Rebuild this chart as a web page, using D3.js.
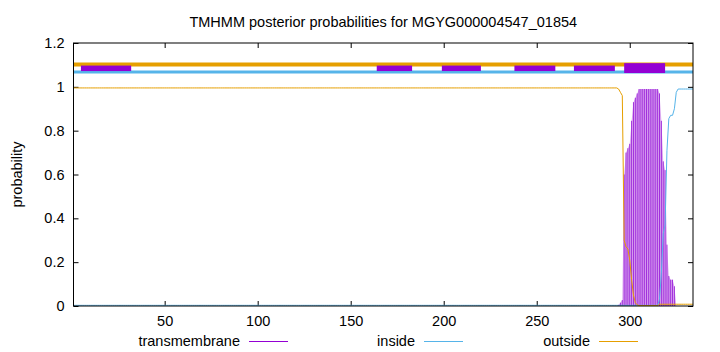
<!DOCTYPE html>
<meta charset="utf-8">
<style>

body {
  margin: 0;
  background: #fff;
}

text {
  font-family: "Liberation Sans", Arial, sans-serif;
  font-size: 14.5px;
  fill: #000;
}

.frame {
  fill: none;
  stroke: #000;
  stroke-width: 1px;
}

.tick line {
  stroke: #000;
}

</style>
<body>
<script src="https://d3js.org/d3.v7.min.js"></script>
<script>

var width = 720,
    height = 352;

var margin = {left: 73.5, right: 27, top: 43, bottom: 46};

// sequence and residue numbers where the explicit values begin
var seqLength = 334;
var firstDetailed = 293;

// posterior values for residues 293..334 (before that: flat)
var transmembrane = [0, 0.005, 0.015, 0.027, 0.60, 0.70, 0.72, 0.74, 0.845, 0.93,
  0.95, 0.97, 0.99, 0.99, 0.99, 0.99, 0.99, 0.99, 0.99, 0.99,
  0.99, 0.99, 0.99, 0.97, 0.845, 0.66, 0.62, 0.28, 0.137, 0.12,
  0.12, 0.09, 0, 0, 0, 0, 0, 0, 0, 0, 0, 0];
var inside = [0.003, 0.003, 0.003, 0.003, 0.003, 0.003, 0.003, 0.003, 0.003, 0.003,
  0.003, 0.003, 0.003, 0.003, 0.003, 0.003, 0.003, 0.003, 0.003, 0.003,
  0.003, 0.003, 0.003, 0.03, 0.15, 0.33, 0.37, 0.71, 0.855, 0.87,
  0.87, 0.90, 0.975, 0.99, 0.99, 0.99, 0.99, 0.99, 0.99, 0.99, 0.99, 0.99];
var outside = [0.995, 0.99, 0.975, 0.96, 0.30, 0.27, 0.26, 0.21, 0.12, 0.05,
  0.015, 0.005, 0.002, 0.002, 0.002, 0.002, 0.002, 0.002, 0.002, 0.002,
  0.002, 0.002, 0.002, 0.008, 0.008, 0.008, 0.008, 0.008, 0.008, 0.008,
  0.008, 0.008, 0.008, 0.008, 0.008, 0.008, 0.008, 0.008, 0.008, 0.008, 0.008, 0.008];
var flatValues = {transmembrane: 0, inside: 0.003, outside: 0.995};

// predicted topology shown above the plot
var tmSegments = [[5, 32], [164, 183], [199, 220], [238, 260], [270, 292], [297, 319]];
var insideBand = [1, 334];
var outsideBand = [1, 334];

var xTicks = [50, 100, 150, 200, 250, 300];
var yTicks = [0, 0.2, 0.4, 0.6, 0.8, 1, 1.2];

var colors = {transmembrane: "#9400d3", inside: "#56b4e9", outside: "#e69f00"};

function series(values, key) {
  var out = [];
  for (var i = 1; i <= seqLength; i++) {
    out.push({pos: i, v: i < firstDetailed ? flatValues[key] : values[i - firstDetailed]});
  }
  return out;
}

var tmData = series(transmembrane, "transmembrane"),
    inData = series(inside, "inside"),
    outData = series(outside, "outside");

var x = d3.scaleLinear()
    .domain([1, seqLength])
    .range([margin.left, width - margin.right]);

var y = d3.scaleLinear()
    .domain([0, 1.2])
    .range([height - margin.bottom, margin.top]);

var svg = d3.select("body").append("svg")
    .attr("width", width)
    .attr("height", height)
    .style("display", "block");

// axes with mirrored ticks
svg.append("g")
    .attr("transform", "translate(0," + y(0) + ")")
    .call(d3.axisBottom(x).tickValues(xTicks).tickSize(-5).tickPadding(10).tickFormat(d3.format("d")))
    .call(function(g) { g.select(".domain").remove(); g.attr("font-family", null).attr("font-size", null); });

svg.append("g")
    .attr("transform", "translate(0," + y(1.2) + ")")
    .call(d3.axisTop(x).tickValues(xTicks).tickSize(-5).tickFormat(""))
    .call(function(g) { g.select(".domain").remove(); });

svg.append("g")
    .attr("transform", "translate(" + x(1) + ",0)")
    .call(d3.axisLeft(y).tickValues(yTicks).tickSize(-5).tickPadding(9).tickFormat(d3.format("")))
    .call(function(g) { g.select(".domain").remove(); g.attr("font-family", null).attr("font-size", null); });

svg.append("g")
    .attr("transform", "translate(" + x(seqLength) + ",0)")
    .call(d3.axisRight(y).tickValues(yTicks).tickSize(-5).tickFormat(""))
    .call(function(g) { g.select(".domain").remove(); });

// light fill under transmembrane impulses
svg.append("path")
    .datum(tmData.filter(function(d) { return d.pos >= firstDetailed; }))
    .attr("fill", "#dcaaf0")
    .attr("d", d3.area()
        .x(function(d) { return x(d.pos); })
        .y0(y(0))
        .y1(function(d) { return y(d.v); }));

svg.selectAll(".impulse")
    .data(tmData.filter(function(d) { return d.v > 0; }))
  .enter().append("line")
    .attr("class", "impulse")
    .attr("x1", function(d) { return x(d.pos); })
    .attr("x2", function(d) { return x(d.pos); })
    .attr("y1", y(0))
    .attr("y2", function(d) { return y(d.v); })
    .attr("stroke", "#a030dc")
    .attr("stroke-width", 1);

var line = d3.line()
    .x(function(d) { return x(d.pos); })
    .y(function(d) { return y(d.v); });

svg.append("path")
    .datum(inData)
    .attr("fill", "none")
    .attr("stroke", colors.inside)
    .attr("stroke-width", 1)
    .attr("d", line);

svg.append("path")
    .datum(outData)
    .attr("fill", "none")
    .attr("stroke", colors.outside)
    .attr("stroke-width", 1)
    .attr("d", line);

// topology bands
svg.append("line")
    .attr("x1", x(outsideBand[0])).attr("x2", x(outsideBand[1]))
    .attr("y1", y(1.102)).attr("y2", y(1.102))
    .attr("stroke", colors.outside).attr("stroke-width", 4);

svg.append("line")
    .attr("x1", x(insideBand[0])).attr("x2", x(insideBand[1]))
    .attr("y1", y(1.068)).attr("y2", y(1.068))
    .attr("stroke", colors.inside).attr("stroke-width", 3);

svg.selectAll(".seg")
    .data(tmSegments)
  .enter().append("rect")
    .attr("class", "seg")
    .attr("x", function(d) { return x(d[0]); })
    .attr("width", function(d) { return x(d[1]) - x(d[0]); })
    .attr("y", function(d, i) { return i === tmSegments.length - 1 ? y(1.108) : y(1.097); })
    .attr("height", function(d, i) { return i === tmSegments.length - 1 ? y(1.063) - y(1.108) : y(1.072) - y(1.097); })
    .attr("fill", colors.transmembrane);

svg.append("rect")
    .attr("class", "frame")
    .attr("x", x(1))
    .attr("y", y(1.2))
    .attr("width", x(seqLength) - x(1))
    .attr("height", y(0) - y(1.2));

// title and labels
svg.append("text")
    .attr("x", (x(1) + x(seqLength)) / 2)
    .attr("y", 27)
    .attr("text-anchor", "middle")
    .text("TMHMM posterior probabilities for MGYG000004547_01854");

svg.append("text")
    .attr("transform", "translate(22," + (y(0.6)) + ") rotate(-90)")
    .attr("text-anchor", "middle")
    .text("probability");

var legend = [
  {name: "transmembrane", end: 240, color: colors.transmembrane},
  {name: "inside", end: 415, color: colors.inside},
  {name: "outside", end: 590, color: colors.outside}
];

var lg = svg.selectAll(".legend")
    .data(legend)
  .enter().append("g")
    .attr("class", "legend");

lg.append("text")
    .attr("x", function(d) { return d.end; })
    .attr("y", 346)
    .attr("text-anchor", "end")
    .text(function(d) { return d.name; });

lg.append("line")
    .attr("x1", function(d) { return d.end + 9; })
    .attr("x2", function(d) { return d.end + 48; })
    .attr("y1", 341.5)
    .attr("y2", 341.5)
    .attr("stroke", function(d) { return d.color; });

</script>
</body>
